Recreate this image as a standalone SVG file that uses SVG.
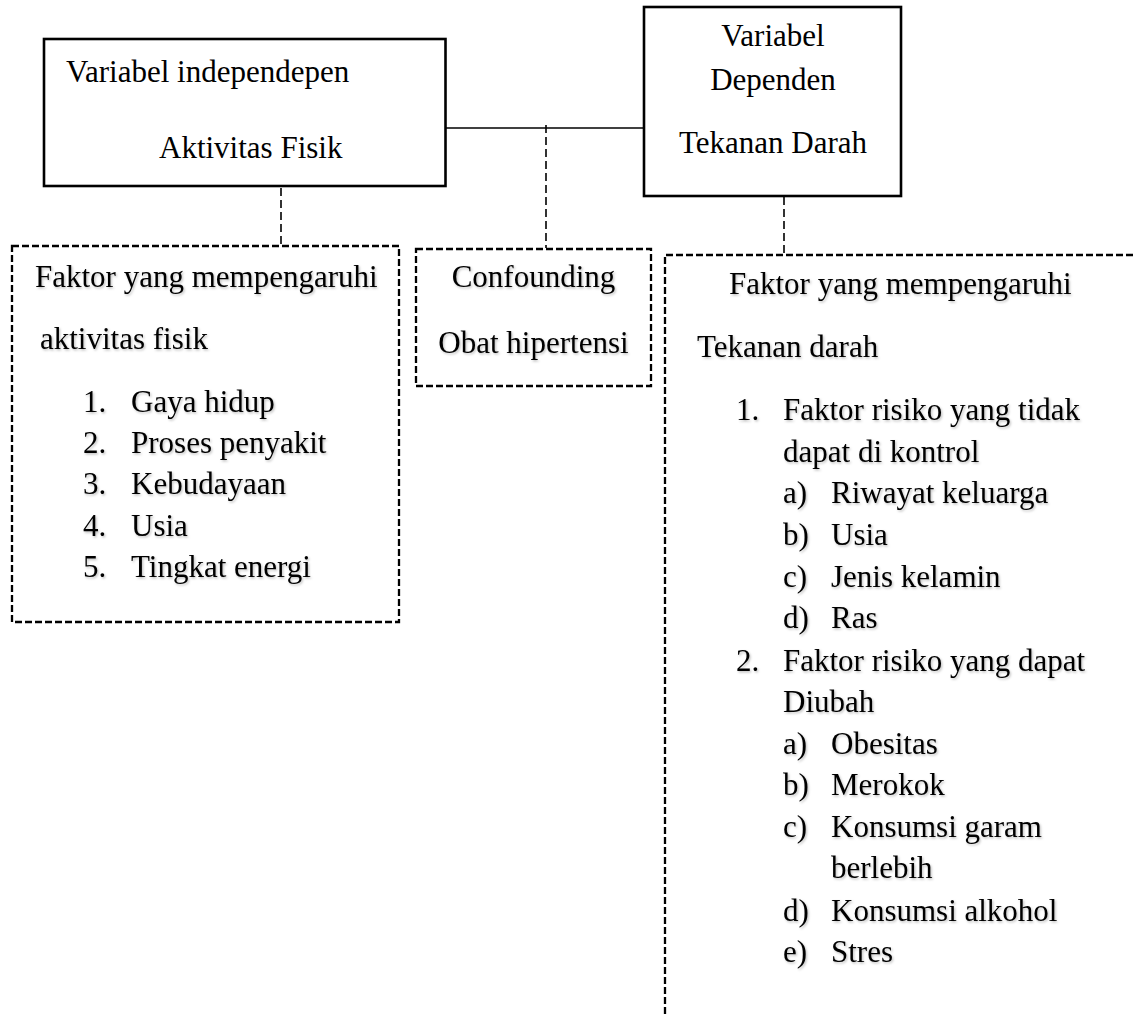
<svg xmlns="http://www.w3.org/2000/svg" width="1134" height="1014" viewBox="0 0 1134 1014">
<defs>
<filter id="sh" x="-5%" y="-30%" width="110%" height="160%">
<feDropShadow dx="1.2" dy="1.5" stdDeviation="1" flood-color="#000" flood-opacity="0.25"/>
</filter>
</defs>
<style>
text{font-family:"Liberation Serif","Times New Roman",serif;font-size:31px;fill:#000;}
.sh{filter:url(#sh);}
.c{text-anchor:middle;}
.solid{fill:#fff;stroke:#000;stroke-width:2.6;}
.dbox{fill:none;stroke:#000;stroke-width:2.3;stroke-dasharray:7 3;}
.link{fill:none;stroke:#000;stroke-width:1.3;}
.dlink{fill:none;stroke:#000;stroke-width:1.6;stroke-dasharray:8 4;}
</style>
<rect width="1134" height="1014" fill="#fff"/>
<g id="connectors">
<line class="link" x1="446" y1="128" x2="644" y2="128"/>
<line class="dlink" x1="546" y1="125" x2="546" y2="248"/>
<line class="dlink" x1="281" y1="188" x2="281" y2="245"/>
<line class="dlink" x1="784" y1="197" x2="784" y2="254"/>
</g>
<g id="independen">
<rect class="solid" x="44" y="39" width="401.5" height="147"/>
<text x="66" y="82">Variabel independepen</text>
<text x="159" y="158">Aktivitas Fisik</text>
</g>
<g id="dependen">
<rect class="solid" x="644" y="7" width="257" height="189"/>
<text class="c" x="773" y="46">Variabel</text>
<text class="c" x="773" y="90">Dependen</text>
<text class="c" x="773" y="153">Tekanan Darah</text>
</g>
<g id="faktor-aktivitas">
<rect class="dbox" x="12" y="246" width="387" height="376"/>
<g class="sh">
<text x="35" y="287">Faktor yang mempengaruhi</text>
<text x="40" y="349">aktivitas fisik</text>
<text x="83" y="412">1.</text><text x="131" y="412">Gaya hidup</text>
<text x="83" y="453">2.</text><text x="131" y="453">Proses penyakit</text>
<text x="83" y="494">3.</text><text x="131" y="494">Kebudayaan</text>
<text x="83" y="536">4.</text><text x="131" y="536">Usia</text>
<text x="83" y="577">5.</text><text x="131" y="577">Tingkat energi</text>
</g>
</g>
<g id="confounding">
<rect class="dbox" x="416" y="249" width="235" height="137"/>
<g class="sh">
<text class="c" x="533.5" y="287">Confounding</text>
<text class="c" x="533.5" y="353">Obat hipertensi</text>
</g>
</g>
<g id="faktor-tekanan">
<path class="dbox" d="M665 1014 V255 H1140"/>
<g class="sh">
<text x="729" y="294">Faktor yang mempengaruhi</text>
<text x="697" y="357">Tekanan darah</text>
<text x="736" y="420">1.</text><text x="783" y="420">Faktor risiko yang tidak</text>
<text x="783" y="462">dapat di kontrol</text>
<text x="783" y="503">a)</text><text x="831" y="503">Riwayat keluarga</text>
<text x="783" y="545">b)</text><text x="831" y="545">Usia</text>
<text x="783" y="587">c)</text><text x="831" y="587">Jenis kelamin</text>
<text x="783" y="628">d)</text><text x="831" y="628">Ras</text>
<text x="736" y="671">2.</text><text x="783" y="671">Faktor risiko yang dapat</text>
<text x="783" y="712">Diubah</text>
<text x="783" y="754">a)</text><text x="831" y="754">Obesitas</text>
<text x="783" y="795">b)</text><text x="831" y="795">Merokok</text>
<text x="783" y="837">c)</text><text x="831" y="837">Konsumsi garam</text>
<text x="831" y="878">berlebih</text>
<text x="783" y="921">d)</text><text x="831" y="921">Konsumsi alkohol</text>
<text x="783" y="962">e)</text><text x="831" y="962">Stres</text>
</g>
</g>
</svg>
